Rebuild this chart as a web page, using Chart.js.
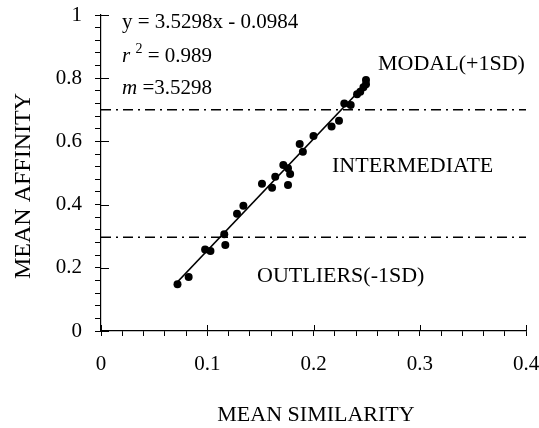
<!DOCTYPE html>
<html>
<head>
<meta charset="utf-8">
<script src="https://cdn.jsdelivr.net/npm/chart.js@4.4.1/dist/chart.umd.min.js"></script>
<style>
  html, body { margin: 0; padding: 0; background: #fff; }
  #wrap { width: 539px; height: 428px; }
</style>
</head>
<body>
<div id="wrap"><canvas id="chart" width="539" height="428"></canvas></div>
<script>
// data
const similarity = [0.072, 0.0825, 0.098, 0.103, 0.116, 0.117, 0.128, 0.134, 0.1515, 0.161,
    0.164, 0.1716, 0.176, 0.178, 0.176, 0.187, 0.190, 0.200, 0.217, 0.224,
    0.229, 0.235, 0.241, 0.244, 0.247, 0.2494, 0.2494];
const affinity = [0.148, 0.171, 0.258, 0.253, 0.306, 0.272, 0.371, 0.396, 0.466, 0.453,
    0.488, 0.525, 0.515, 0.497, 0.462, 0.592, 0.567, 0.617, 0.647, 0.665,
    0.720, 0.715, 0.749, 0.757, 0.771, 0.781, 0.794];

// fitted line ends, y = 3.5298x - 0.0984
const fitX = [0.071, 0.251];
const fitY = [0.152, 0.788];

// +1SD / -1SD bands
const bandX = [0, 0.4];
const modalY = [0.70, 0.70];
const outlierY = [0.297, 0.297];

const xTickLabels = ['0', '0.1', '0.2', '0.3', '0.4'];
const yTickLabels = ['0', '0.2', '0.4', '0.6', '0.8', '1'];

const serif = "'Liberation Serif', 'Times New Roman', serif";

function pairs(xs, ys) {
    return xs.map((x, i) => ({ x: x, y: ys[i] }));
}

function majorIndex(v, step) {
    const k = v / step;
    return Math.abs(k - Math.round(k)) < 1e-6 ? Math.round(k) : -1;
}

const extras = {
    id: 'extras',
    afterDraw(chart) {
        const ctx = chart.ctx;
        const xs = chart.scales.x, ys = chart.scales.y;
        const x0 = xs.getPixelForValue(0), y0 = ys.getPixelForValue(0);
        ctx.save();
        // inner half of the major ticks
        ctx.strokeStyle = '#000';
        ctx.lineWidth = 1;
        ctx.beginPath();
        yTickLabels.forEach((t, i) => {
            const py = Math.round(ys.getPixelForValue(i * 0.2)) + 0.5;
            ctx.moveTo(x0, py);
            ctx.lineTo(x0 + 8, py);
        });
        xTickLabels.forEach((t, i) => {
            const px = Math.round(xs.getPixelForValue(i * 0.1)) + 0.5;
            ctx.moveTo(px, y0);
            ctx.lineTo(px, y0 - 6);
        });
        ctx.stroke();

        ctx.fillStyle = '#000';
        ctx.textBaseline = 'alphabetic';
        ctx.textAlign = 'left';

        // equation block
        ctx.font = '21px ' + serif;
        ctx.fillText('y = 3.5298x - 0.0984', 122, 28);
        ctx.font = 'italic 21px ' + serif;
        ctx.fillText('r', 122, 62);
        let w = ctx.measureText('r ').width;
        ctx.font = '14px ' + serif;
        ctx.fillText('2', 122 + w, 53);
        w += ctx.measureText('2').width;
        ctx.font = '21px ' + serif;
        ctx.fillText(' = 0.989', 122 + w, 62);
        ctx.font = 'italic 21px ' + serif;
        ctx.fillText('m', 122, 94);
        w = ctx.measureText('m').width;
        ctx.font = '21px ' + serif;
        ctx.fillText(' =3.5298', 122 + w, 94);

        // band labels
        ctx.font = '22px ' + serif;
        ctx.fillText('MODAL(+1SD)', 378, 70);
        ctx.fillText('INTERMEDIATE', 332, 172);
        ctx.fillText('OUTLIERS(-1SD)', 257, 282);

        // axis titles
        ctx.font = '22px ' + serif;
        ctx.textAlign = 'center';
        ctx.fillText('MEAN SIMILARITY', 316, 421);
        ctx.translate(30, 186);
        ctx.rotate(-Math.PI / 2);
        ctx.font = '24px ' + serif;
        ctx.fillText('MEAN AFFINITY', 0, 0);
        ctx.restore();
    }
};

new Chart(document.getElementById('chart'), {
    type: 'scatter',
    data: {
        datasets: [
            {
                data: pairs(bandX, modalY), showLine: true, pointRadius: 0,
                borderColor: '#000', borderWidth: 1.5, borderDash: [10, 5, 2, 5]
            },
            {
                data: pairs(bandX, outlierY), showLine: true, pointRadius: 0,
                borderColor: '#000', borderWidth: 1.5, borderDash: [10, 5, 2, 5]
            },
            {
                data: pairs(fitX, fitY), showLine: true, pointRadius: 0,
                borderColor: '#000', borderWidth: 1.7
            },
            {
                data: pairs(similarity, affinity), pointRadius: 4,
                pointBackgroundColor: '#000', pointBorderColor: '#000', pointBorderWidth: 0
            }
        ]
    },
    options: {
        responsive: false,
        animation: false,
        layout: { padding: { top: 15, right: 13, left: 0, bottom: 0 } },
        plugins: { legend: { display: false }, tooltip: { enabled: false } },
        scales: {
            x: {
                type: 'linear', min: 0, max: 0.4,
                grid: { drawOnChartArea: false, drawTicks: true, tickLength: 5, color: '#000' },
                border: { color: '#000', width: 1.2 },
                ticks: {
                    stepSize: 0.02, autoSkip: false, maxRotation: 0, padding: 16,
                    color: '#000', font: { family: serif, size: 21 },
                    callback: v => { const i = majorIndex(v, 0.1); return i >= 0 ? xTickLabels[i] : ''; }
                },
                afterFit(s) { s.height = 97; s.paddingLeft = 0; s.paddingRight = 0; }
            },
            y: {
                type: 'linear', min: 0, max: 1,
                grid: { drawOnChartArea: false, drawTicks: true, tickLength: 6, color: '#000' },
                border: { color: '#000', width: 1.2 },
                ticks: {
                    stepSize: 0.04, autoSkip: false, padding: 13,
                    color: '#000', font: { family: serif, size: 21 },
                    callback: v => { const i = majorIndex(v, 0.2); return i >= 0 ? yTickLabels[i] : ''; }
                },
                afterFit(s) { s.width = 101; s.paddingTop = 0; s.paddingBottom = 0; }
            }
        }
    },
    plugins: [extras]
});
</script>
</body>
</html>
